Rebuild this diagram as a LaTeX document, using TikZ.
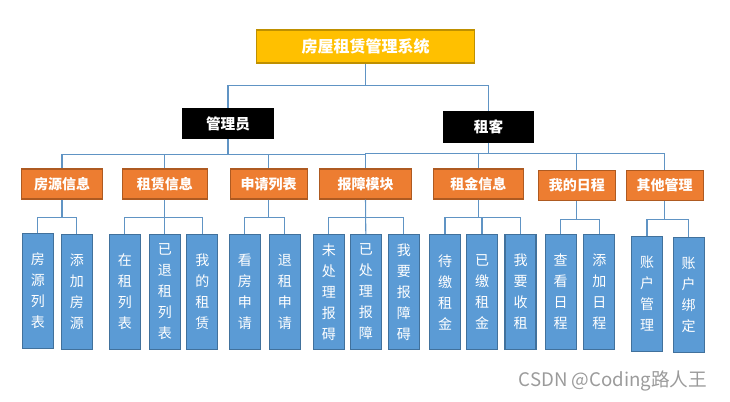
\documentclass[tikz,border=0pt]{standalone}
\usepackage{fontspec}
\setmainfont{Noto Sans CJK SC}
\usepackage{tikz}
\usetikzlibrary{positioning,calc}
\definecolor{sysgold}{RGB}{255,192,0}
\definecolor{sysedge}{RGB}{191,144,0}
\definecolor{modorg}{RGB}{237,125,49}
\definecolor{modedge}{RGB}{174,90,33}
\definecolor{leafblu}{RGB}{91,155,213}
\definecolor{leafedge}{RGB}{65,113,156}
\definecolor{lnkblu}{RGB}{96,148,196}
\definecolor{wmkgray}{RGB}{155,155,155}
\tikzset{
  sysbox/.style={draw=sysedge, fill=sysgold, line width=0.8pt, text=white, inner sep=0pt,
                 minimum width=164pt, minimum height=24.75pt, font=\fontsize{12pt}{14pt}\selectfont\bfseries},
  rolebox/.style={fill=black, text=white, inner sep=0pt,
                  minimum width=68.5pt, minimum height=23.5pt, font=\fontsize{11pt}{13pt}\selectfont\bfseries},
  modbox/.style={draw=modedge, fill=modorg, line width=0.8pt, text=white, inner sep=0pt,
                 minimum height=22.5pt, font=\fontsize{10.5pt}{12pt}\selectfont\bfseries},
  leafbox/.style={draw=leafedge, fill=leafblu, line width=0.8pt, text=white, inner sep=0pt,
                  minimum width=23.25pt, minimum height=86.25pt, align=center,
                  font=\fontsize{10.5pt}{15.75pt}\selectfont},
  lnk/.style={draw=lnkblu, line width=0.8pt},
  wmk/.style={text=wmkgray, font=\fontsize{14pt}{16pt}\selectfont},
}
\begin{document}
\begin{tikzpicture}[x=0.75pt, y=-0.75pt]
  \useasboundingbox (0,0) rectangle (730,401);
  % top levels
  \node[sysbox] (sys) at (365.5,46.5) {房屋租赁管理系统};
  \node[rolebox] (adm) at (228,123.5) {管理员};
  \node[rolebox] (ten) at (488.5,127) {租客};
  % modules
  \node[modbox, minimum width=60.5pt] (fy) at (62,184) {房源信息};
  \node[modbox, minimum width=63.75pt] (zl) at (164.8,184) {租赁信息};
  \node[modbox, minimum width=57.5pt] (sq) at (268.7,184) {申请列表};
  \node[modbox, minimum width=69.3pt] (bz) at (365.5,184) {报障模块};
  \node[modbox, minimum width=67.5pt] (zj) at (478.3,184) {租金信息};
  \node[modbox, minimum width=57.75pt] (rc) at (576.8,185.5) {我的日程};
  \node[modbox, minimum width=58pt] (qt) at (664.7,185.5) {其他管理};
  % leaves
  \node[leafbox] (fy1) at (37.8,291) {房\\源\\列\\表};
  \node[leafbox] (fy2) at (76.8,292) {添\\加\\房\\源};
  \node[leafbox] (zl1) at (124.8,292) {在\\租\\列\\表};
  \node[leafbox] (zl2) at (164.8,292) {已\\退\\租\\列\\表};
  \node[leafbox] (zl3) at (202.3,292) {我\\的\\租\\赁};
  \node[leafbox] (sq1) at (244.8,292) {看\\房\\申\\请};
  \node[leafbox] (sq2) at (284.8,292) {退\\租\\申\\请};
  \node[leafbox] (bz1) at (328.8,292) {未\\处\\理\\报\\碍};
  \node[leafbox] (bz2) at (365.8,292) {已\\处\\理\\报\\障};
  \node[leafbox] (bz3) at (403.8,292) {我\\要\\报\\障\\碍};
  \node[leafbox] (zj1) at (445,292) {待\\缴\\租\\金};
  \node[leafbox] (zj2) at (482,292) {已\\缴\\租\\金};
  \node[leafbox] (zj3) at (520.5,292) {我\\要\\收\\租};
  \node[leafbox] (rc1) at (560.7,292) {查\\看\\日\\程};
  \node[leafbox] (rc2) at (599.3,292) {添\\加\\日\\程};
  \node[leafbox] (qt1) at (647,294) {账\\户\\管\\理};
  \node[leafbox] (qt2) at (688.7,295) {账\\户\\绑\\定};
  % connectors
  \draw[lnk] (sys.south) -- ++(0,22) -| (adm.north);
  \draw[lnk] (sys.south) -- ++(0,22) -| (ten.north);
  \draw[lnk] (adm.south) -- ++(0,15) -| (fy.north);
  \draw[lnk] (adm.south) -- ++(0,15) -| (zl.north);
  \draw[lnk] (adm.south) -- ++(0,15) -| (sq.north);
  \draw[lnk] (adm.south) -- ++(0,15) -| (bz.north);
  \draw[lnk] (ten.south) -- ++(0,11) -| (bz.north);
  \draw[lnk] (ten.south) -- ++(0,11) -| (zj.north);
  \draw[lnk] (ten.south) -- ++(0,11) -| (rc.north);
  \draw[lnk] (ten.south) -- ++(0,11) -| (qt.north);
  \draw[lnk] (fy.south) -- ++(0,18) -| (fy1.north);
  \draw[lnk] (fy.south) -- ++(0,18) -| (fy2.north);
  \draw[lnk] (zl.south) -- ++(0,18) -| (zl1.north);
  \draw[lnk] (zl.south) -- (zl2.north);
  \draw[lnk] (zl.south) -- ++(0,18) -| (zl3.north);
  \draw[lnk] (sq.south) -- ++(0,18) -| (sq1.north);
  \draw[lnk] (sq.south) -- ++(0,18) -| (sq2.north);
  \draw[lnk] (bz.south) -- ++(0,18) -| (bz1.north);
  \draw[lnk] (bz.south) -- (bz2.north);
  \draw[lnk] (bz.south) -- ++(0,18) -| (bz3.north);
  \draw[lnk] (zj.south) -- ++(0,18) -| (zj1.north);
  \draw[lnk] (zj.south) -- ++(0,18) -| (zj2.north);
  \draw[lnk] (zj.south) -- ++(0,18) -| (zj3.north);
  \draw[lnk] (rc.south) -- ++(0,18) -| (rc1.north);
  \draw[lnk] (rc.south) -- ++(0,18) -| (rc2.north);
  \draw[lnk] (qt.south) -- ++(0,18) -| (qt1.north);
  \draw[lnk] (qt.south) -- ++(0,18) -| (qt2.north);
  \node[wmk] (csdn) at (613,381) {CSDN @Coding路人王};
\end{tikzpicture}
\end{document}
